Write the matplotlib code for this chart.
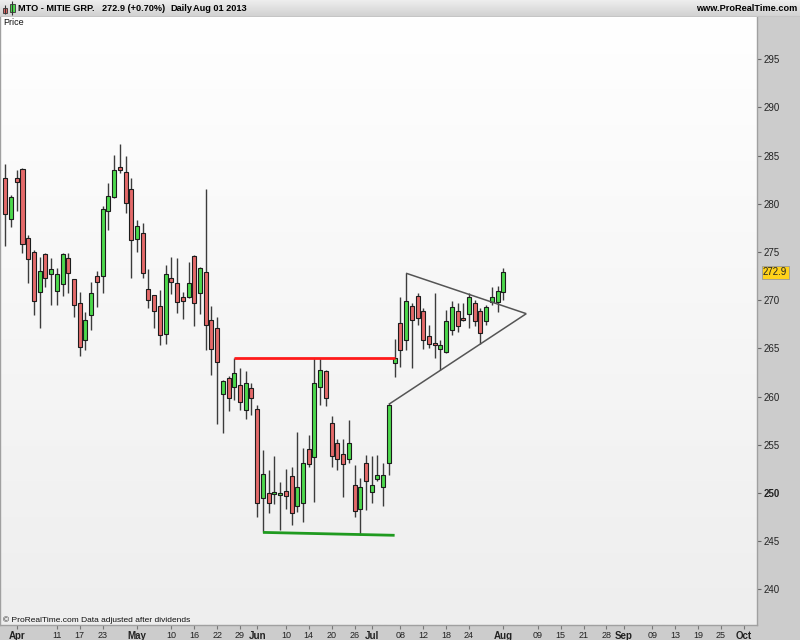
import matplotlib
matplotlib.use("Agg")
import matplotlib.pyplot as plt
import matplotlib.transforms as mtransforms
from matplotlib.colors import LinearSegmentedColormap
from matplotlib.patches import Rectangle
import numpy as np
import pandas as pd

plt.rcParams['font.family'] = ['Liberation Sans', 'DejaVu Sans']

# %% data (MTO daily, 27 Mar - 01 Aug 2013)
uk_holidays = ['2013-03-29', '2013-04-01', '2013-05-06', '2013-05-27', '2013-08-26']

opens = [282.7, 278.4, 282.7, 283.6, 276.5, 275.0, 270.8, 274.8, 272.7, 271.0,
         271.7, 274.4, 272.2, 269.7, 265.9, 268.5, 272.5, 272.5, 279.3, 280.7,
         283.8, 283.3, 281.5, 276.3, 277.0, 271.2, 270.5, 269.4, 266.5, 272.3,
         271.8, 270.3, 270.3, 274.6, 270.7, 272.9, 267.9, 267.1, 260.3, 261.9,
         261.0, 261.2, 258.6, 260.9, 258.7, 249.5, 250.0, 249.9, 249.8, 250.2,
         251.8, 248.6, 248.9, 254.6, 253.7, 261.0, 262.6, 257.3, 255.2, 254.0,
         253.5, 250.8, 248.3, 253.1, 250.1, 251.4, 250.6, 253.1, 263.5, 267.6,
         265.9, 269.4, 270.4, 268.9, 266.3, 265.6, 264.9, 264.6, 266.9, 268.9,
         268.1, 268.6, 269.7, 268.9, 267.8, 269.8, 269.8, 270.9]
highs = [284.1, 280.9, 283.5, 283.7, 276.8, 275.2, 274.5, 274.9, 274.4, 273.3,
         274.9, 274.9, 272.2, 270.9, 268.8, 271.9, 273.0, 279.8, 282.2, 285.1,
         286.2, 285.0, 282.7, 278.3, 278.0, 273.2, 270.5, 271.1, 273.6, 274.5,
         274.4, 270.9, 274.0, 274.7, 273.4, 281.5, 269.4, 268.3, 261.7, 262.1,
         264.0, 263.0, 262.7, 261.4, 259.1, 254.5, 252.4, 253.8, 251.1, 252.5,
         252.7, 256.3, 254.7, 256.0, 264.0, 264.0, 262.8, 258.0, 255.6, 255.6,
         257.6, 252.9, 251.5, 253.9, 253.8, 253.9, 253.1, 259.3, 266.0, 270.3,
         272.8, 269.7, 270.7, 269.2, 267.4, 270.7, 265.9, 269.0, 269.9, 269.7,
         269.7, 270.7, 270.0, 269.2, 269.5, 271.4, 271.5, 273.3]
lows = [275.6, 277.6, 279.3, 274.9, 271.8, 268.5, 267.1, 271.4, 269.5, 269.5,
        270.4, 270.7, 268.3, 264.2, 264.8, 266.9, 269.3, 270.7, 277.3, 280.6,
        283.2, 279.0, 272.3, 275.0, 272.3, 269.2, 267.1, 265.4, 265.5, 270.6,
        268.7, 268.0, 270.2, 267.3, 268.6, 264.8, 262.2, 257.2, 256.2, 258.5,
        259.6, 258.6, 257.7, 258.1, 247.5, 245.9, 247.9, 248.8, 246.2, 248.3,
        246.7, 248.0, 247.0, 252.7, 249.1, 259.1, 259.0, 252.7, 252.4, 249.6,
        253.1, 247.5, 245.6, 248.2, 248.9, 251.2, 248.6, 251.9, 262.0, 263.1,
        264.8, 263.0, 267.4, 264.9, 265.0, 264.0, 262.8, 264.5, 266.4, 266.7,
        267.8, 267.1, 267.3, 265.5, 267.4, 269.5, 268.8, 270.0]
closes = [278.9, 280.7, 282.3, 275.8, 274.3, 269.9, 273.0, 272.3, 273.2, 272.7,
          274.8, 272.8, 269.5, 265.1, 267.9, 270.7, 271.9, 279.5, 280.8, 283.5,
          283.5, 280.1, 276.2, 277.7, 272.8, 270.0, 268.9, 266.4, 272.7, 271.9,
          269.8, 269.9, 271.8, 269.7, 273.3, 267.4, 264.9, 263.6, 261.6, 259.9,
          262.4, 259.4, 261.4, 259.9, 248.9, 252.0, 248.9, 249.9, 249.8, 249.7,
          247.9, 250.6, 253.1, 253.0, 261.4, 262.8, 259.9, 253.8, 253.5, 253.0,
          255.2, 248.1, 250.6, 251.2, 250.8, 251.9, 251.9, 259.1, 264.0, 264.8,
          269.9, 267.9, 268.1, 265.9, 265.5, 265.4, 265.3, 267.8, 269.3, 267.3,
          267.9, 270.3, 267.8, 266.6, 269.3, 270.3, 271.0, 272.9]

tick_dates = ['2013-04-02', '2013-04-11', '2013-04-17', '2013-04-23', '2013-05-01',
              '2013-05-10', '2013-05-16', '2013-05-22', '2013-05-29', '2013-06-03',
              '2013-06-10', '2013-06-14', '2013-06-20', '2013-06-26', '2013-07-01',
              '2013-07-08', '2013-07-12', '2013-07-18', '2013-07-24', '2013-08-01',
              '2013-08-09', '2013-08-15', '2013-08-21', '2013-08-28', '2013-09-02',
              '2013-09-09', '2013-09-13', '2013-09-19', '2013-09-25', '2013-10-01']
tick_labels = ['Apr', '11', '17', '23', 'May', '10', '16', '22', '29', 'Jun',
               '10', '14', '20', '26', 'Jul', '08', '12', '18', '24', 'Aug',
               '09', '15', '21', '28', 'Sep', '09', '13', '19', '25', 'Oct']
month_names = ['Apr', 'May', 'Jun', 'Jul', 'Aug', 'Sep', 'Oct']
price_ticks = [240, 245, 250, 255, 260, 265, 270, 275, 280, 285, 290, 295]
last_price = 272.9

# drawn lines: (dates, prices)
resistance = (['2013-05-28', '2013-07-05'], [264.0, 264.0])
support = (['2013-06-04', '2013-07-05'], [245.9, 245.6])
tri_upper = (['2013-07-09', '2013-08-07'], [272.8, 268.6])
tri_lower = (['2013-07-04', '2013-08-07'], [259.2, 268.6])

# %% layout
days = pd.bdate_range('2013-03-27', '2013-10-15', freq='C', holidays=uk_holidays)
pos = {d.strftime('%Y-%m-%d'): i for i, d in enumerate(days)}
x = np.arange(len(opens))
o, h, l, c = map(np.array, (opens, highs, lows, closes))

W, H = 800, 640
fig = plt.figure(figsize=(8, 6.4), dpi=100, facecolor='#cccccc')
ax = fig.add_axes([0, 15 / H, 757 / W, (625 - 17) / H])

bg = LinearSegmentedColormap.from_list('bg', ['#ffffff', '#eeeeee'])
ax.imshow(np.linspace(0, 1, 256).reshape(-1, 1), cmap=bg, aspect='auto',
          extent=[0, 1, 0, 1], transform=ax.transAxes, zorder=0, origin='upper')

# candles
up = c >= o
colors = np.where(up, '#4cd94c', '#e46a6a')
ax.vlines(x, l, h, color='#3c3c3c', lw=1, zorder=2)
ax.bar(x, np.maximum(np.abs(c - o), 0.15), bottom=np.minimum(o, c), width=0.7,
       color=colors, edgecolor='#1c1c1c', linewidth=0.8, zorder=3)

# drawings
def line(spec, **kw):
    ds, ps = spec
    ax.plot([pos[d] for d in ds], ps, solid_capstyle='butt', **kw)

line(resistance, color='#ff1a1a', lw=2, zorder=4)
line(support, color='#1f9a1f', lw=2, zorder=4)
line(tri_upper, color='#555555', lw=1.1, zorder=4)
line(tri_lower, color='#555555', lw=1.1, zorder=4)

ax.set_xlim(-0.93, 131.3)
ax.set_ylim(236.29, 299.39)

# axes
ax.yaxis.tick_right()
ax.set_yticks(price_ticks)
ax.set_yticklabels([str(v) for v in price_ticks])
ax.tick_params(axis='y', direction='out', length=3, color='#666666',
               labelsize=7, pad=2, labelcolor='#222222')
for lbl in ax.get_yticklabels():
    if lbl.get_text() == '250':
        lbl.set_fontweight('bold')

ax.set_xticks([pos[d] for d in tick_dates])
ax.set_xticklabels(tick_labels)
ax.tick_params(axis='x', direction='out', length=3, color='#777777',
               labelsize=6.5, pad=1.5, labelcolor='#222222')
for lbl in ax.get_xticklabels():
    if lbl.get_text() in month_names:
        lbl.set_fontweight('bold')
        lbl.set_fontsize(7)

for side in ('left', 'right', 'bottom'):
    ax.spines[side].set_color('#a0a0a0')
    ax.spines[side].set_linewidth(1)
ax.spines['top'].set_visible(False)

tr = mtransforms.blended_transform_factory(ax.transAxes, ax.transData)
ax.text(1 + 6 / 757, last_price, '272.9', transform=tr, ha='left', va='center',
        fontsize=7, color='#222222', zorder=6, clip_on=False,
        bbox=dict(boxstyle='square,pad=0.15', fc='#ffd21a', ec='#9a9a9a', lw=0.6))

# header bar
hax = fig.add_axes([0, 1 - 17 / H, 1, 17 / H])
hbg = LinearSegmentedColormap.from_list('hb', ['#eeeeee', '#d0d0d0'])
hax.imshow(np.linspace(0, 1, 64).reshape(-1, 1), cmap=hbg, aspect='auto',
           extent=[0, 800, 17, 0], zorder=0)
hax.set_xlim(0, 800)
hax.set_ylim(17, 0)
hax.axhline(16.5, color='#9a9a9a', lw=1)
hax.set_axis_off()
# little candle icon
hax.vlines([5, 12], [5, 1], [14, 15], color='#333333', lw=0.8)
hax.add_patch(Rectangle((3, 7.5), 4, 5, fc='#e46a6a', ec='#333333', lw=0.6))
hax.add_patch(Rectangle((10, 3.5), 4.5, 8, fc='#4cd94c', ec='#333333', lw=0.6))

hy = 1 - 8.5 / H
fig.text(18 / W, hy, 'MTO - MITIE GRP.', fontsize=6.6, fontweight='bold', va='center')
fig.text(102 / W, hy, '272.9 (+0.70%)', fontsize=6.6, fontweight='bold', va='center')
fig.text(170 / W, hy, 'Daily', fontsize=6.6, fontweight='bold', va='center')
fig.text(193 / W, hy, 'Aug 01 2013', fontsize=6.6, fontweight='bold', va='center')
fig.text(797 / W, hy, 'www.ProRealTime.com', fontsize=6.6, fontweight='bold',
         va='center', ha='right')

fig.text(3 / W, 1 - 22.5 / H, 'Price', fontsize=6.5, va='center', color='#111111')
fig.text(3 / W, 1 - 620 / H, '\u00a9 ProRealTime.com Data adjusted after dividends',
         fontsize=6, va='center', color='#111111')

fig.savefig('out.png', dpi=100, facecolor=fig.get_facecolor())
